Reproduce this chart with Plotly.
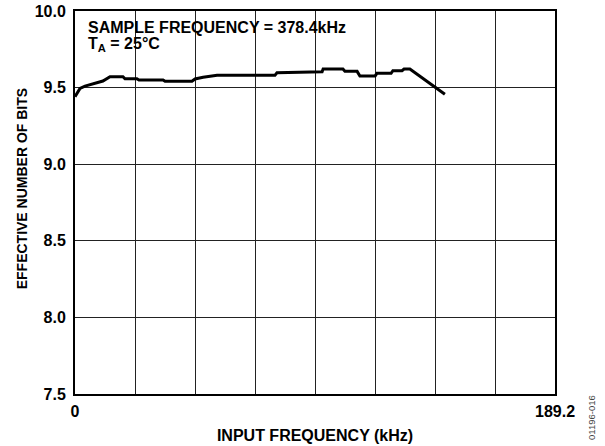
import plotly.graph_objects as go

freq_khz = [0, 1.97, 3.94, 7.88, 11.0, 13.8, 18.9, 19.7, 24.4, 25.2, 34.7, 35.5, 46.1, 47.3,
            50.5, 56.0, 78.8, 79.6, 97.4, 97.8, 105.6, 106.4, 111.2, 112.3, 118.3, 119.0,
            124.6, 125.3, 128.9, 129.7, 132.0, 145.8]
enob = [9.44, 9.495, 9.51, 9.53, 9.543, 9.571, 9.571, 9.558, 9.558, 9.55, 9.55, 9.541, 9.541, 9.556,
        9.567, 9.58, 9.58, 9.597, 9.603, 9.621, 9.621, 9.606, 9.606, 9.576, 9.576, 9.593,
        9.593, 9.61, 9.61, 9.621, 9.621, 9.456]

x_max = 189.2
x_grid = [x_max * i / 8 for i in range(9)]
x_labels = ["0"] + [""] * 7 + ["189.2"]
y_ticks = [7.5, 8.0, 8.5, 9.0, 9.5, 10.0]
y_labels = ["7.5", "8.0", "8.5", "9.0", "9.5", "10.0"]

FONT = "Liberation Sans, Arial, sans-serif"

fig = go.Figure()
fig.add_trace(go.Scatter(x=freq_khz, y=enob, mode="lines",
                         line=dict(color="black", width=3), showlegend=False,
                         hoverinfo="skip"))

fig.update_layout(
    width=605, height=446,
    margin=dict(l=75, r=50, t=11, b=52),
    paper_bgcolor="white", plot_bgcolor="white",
    font=dict(family=FONT, color="black", size=16),
    xaxis=dict(range=[0, x_max], tickvals=x_grid, ticktext=x_labels, automargin=False,
               showgrid=True, gridcolor="#222", gridwidth=1.2, zeroline=False,
               showline=True, linecolor="black", linewidth=2, mirror=True,
               ticks="", ticklabelstandoff=2,
               tickfont=dict(family=FONT, size=16, color="black", weight="bold"),
               title=dict(text="<b>INPUT FREQUENCY (kHz)</b>", standoff=11,
                          font=dict(family=FONT, size=16, color="black"))),
    yaxis=dict(range=[7.5, 10.0], tickvals=y_ticks, ticktext=y_labels, automargin=False,
               showgrid=True, gridcolor="#222", gridwidth=1.2, zeroline=False,
               showline=True, linecolor="black", linewidth=2, mirror=True,
               ticks="", ticklabelstandoff=4,
               tickfont=dict(family=FONT, size=16, color="black", weight="bold")),
    annotations=[
        dict(text="<b>EFFECTIVE NUMBER OF BITS</b>", xref="paper", yref="paper",
             x=-0.110, y=0.535, xanchor="center", yanchor="middle", textangle=-90,
             showarrow=False, font=dict(family=FONT, size=14, color="black")),
        dict(text="<b>SAMPLE FREQUENCY = 378.4kHz</b>", xref="paper", yref="paper",
             x=0.022, y=0.984, xanchor="left", yanchor="top", showarrow=False,
             font=dict(family=FONT, size=16, color="black")),
        dict(text="<b>T<sub>A</sub> = 25°C</b>", xref="paper", yref="paper",
             x=0.022, y=0.942, xanchor="left", yanchor="top", showarrow=False,
             font=dict(family=FONT, size=16, color="black")),
        dict(text="01196-016", xref="paper", yref="paper",
             x=1.077, y=-0.060, xanchor="center", yanchor="middle", textangle=-90,
             showarrow=False, font=dict(family=FONT, size=9.5, color="#444")),
    ],
)

fig.write_html("out.html", config={"displayModeBar": False},
               post_script="document.body.style.margin='0';document.body.style.padding='0';")
